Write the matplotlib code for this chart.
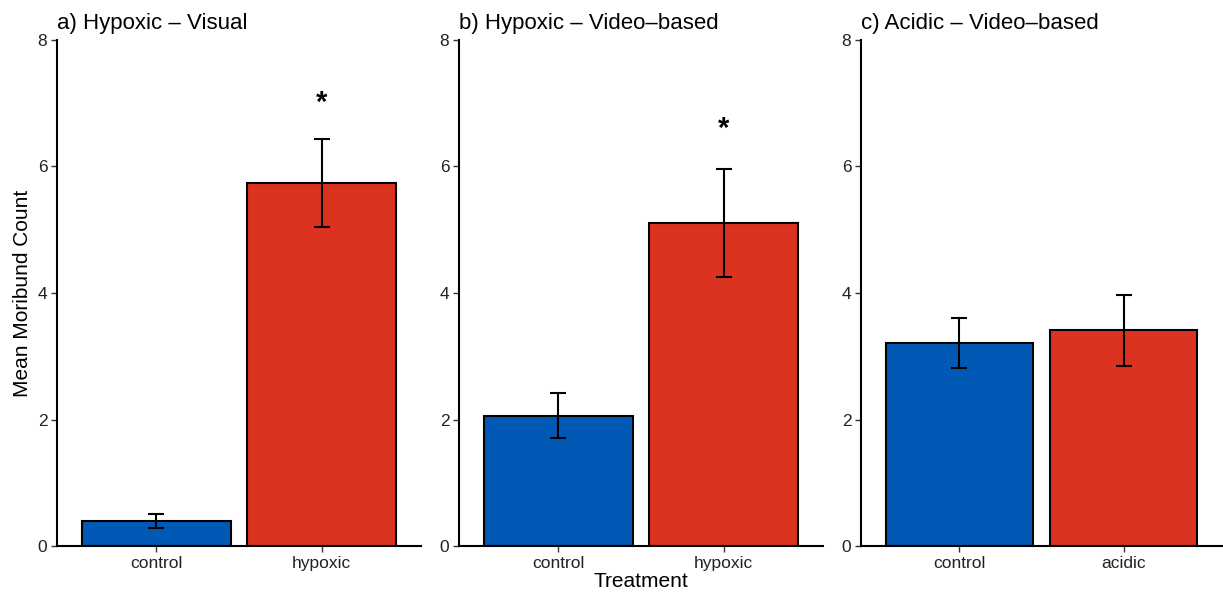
import matplotlib
matplotlib.use('Agg')
from matplotlib import pyplot as plt

plt.rcParams['font.family'] = ['Liberation Sans', 'DejaVu Sans']

# ── Data ──────────────────────────────────────────────────────────────────────
titles     = ['a) Hypoxic – Visual', 'b) Hypoxic – Video–based', 'c) Acidic – Video–based']
categories = [['control', 'hypoxic'], ['control', 'hypoxic'], ['control', 'acidic']]
means      = [[0.39, 5.74], [2.06, 5.10], [3.21, 3.41]]
err_hi     = [[0.51, 6.43], [2.42, 5.96], [3.60, 3.97]]
err_lo     = [[0.28, 5.04], [1.71, 4.25], [2.81, 2.85]]
star_y     = [[None, 7.0], [None, 6.6], [None, None]]
yticks     = [0, 2, 4, 6, 8]

BLUE, RED = '#005AB5', '#DC3220'

W, H = 1223, 596
fig = plt.figure(figsize=(W / 100, H / 100), dpi=100)

lefts  = [57, 459, 861]
widths = [364, 364, 361]
bottom, top = 546, 40

for i in range(3):
    ax = fig.add_axes([lefts[i] / W, (H - bottom) / H, widths[i] / W, (bottom - top) / H])
    x = [1, 2]
    m = means[i]
    lo = [m[j] - err_lo[i][j] for j in range(2)]
    hi = [err_hi[i][j] - m[j] for j in range(2)]
    ax.bar(x, m, width=0.9, color=[BLUE, RED], edgecolor='black', linewidth=1.5, zorder=2)
    ax.errorbar(x, m, yerr=[lo, hi], fmt='none', ecolor='black', elinewidth=1.5,
                capsize=6, capthick=1.5, zorder=3)
    for j in range(2):
        if star_y[i][j] is not None:
            ax.text(x[j], star_y[i][j], '*', ha='center', va='center',
                    fontsize=21, fontweight='bold')

    ax.set_xlim(0.4, 2.6)
    ax.set_ylim(0, 8)
    ax.set_xticks(x)
    ax.set_xticklabels(categories[i])
    ax.set_yticks(yticks)
    ax.tick_params(axis='both', labelsize=12.5, length=4, width=1, colors='#333333',
                   labelcolor='#222222', pad=3)
    for s in ['top', 'right']:
        ax.spines[s].set_visible(False)
    for s in ['left', 'bottom']:
        ax.spines[s].set_linewidth(1.5)
    ax.set_title(titles[i], loc='left', fontsize=16, pad=8)

    if i == 0:
        ax.set_ylabel('Mean Moribund Count', fontsize=15, labelpad=4)
    if i == 1:
        ax.set_xlabel('Treatment', fontsize=15, labelpad=1)

plt.savefig('out.png', dpi=100)
